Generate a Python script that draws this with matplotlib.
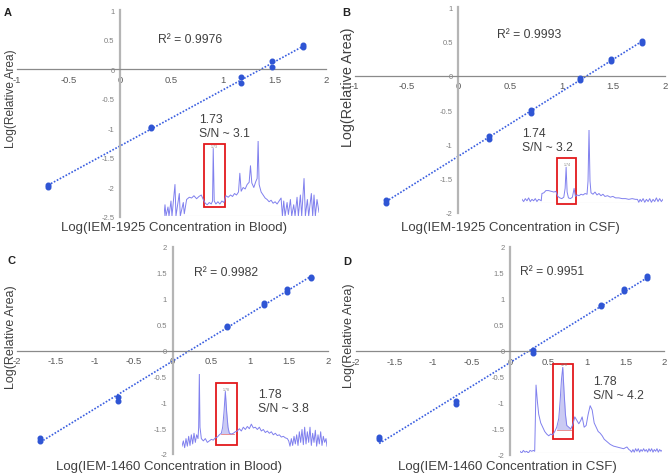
import numpy as np
import matplotlib
matplotlib.use("Agg")
import matplotlib.pyplot as plt
from matplotlib.patches import Rectangle

plt.rcParams['font.family'] = ['Liberation Sans', 'DejaVu Sans']
plt.rcParams['axes.unicode_minus'] = False

W, H = 669, 477

# calibration data: log10(concentration) vs log10(relative area)
A_x = [-0.699, -0.699, 0.301, 0.301, 1.176, 1.176, 1.477, 1.477, 1.778, 1.778]
A_y = [-1.96, -1.99, -0.98, -1.00, -0.13, -0.23, 0.14, 0.03, 0.41, 0.37]
B_x = [-0.699, -0.699, 0.301, 0.301, 0.699, 0.699, 1.176, 1.176, 1.477, 1.477, 1.778, 1.778]
B_y = [-1.81, -1.85, -0.88, -0.92, -0.50, -0.54, -0.04, -0.06, 0.25, 0.21, 0.50, 0.47]
C_x = [-1.699, -1.699, -0.699, -0.699, 0.699, 0.699, 1.176, 1.176, 1.477, 1.477, 1.778, 1.778]
C_y = [-1.70, -1.74, -0.90, -0.97, 0.47, 0.45, 0.92, 0.88, 1.18, 1.14, 1.42, 1.41]
D_x = [-1.699, -1.699, -0.699, -0.699, 0.301, 0.301, 1.176, 1.176, 1.477, 1.477, 1.778, 1.778]
D_y = [-1.65, -1.69, -0.97, -1.01, 0.02, -0.04, 0.89, 0.87, 1.19, 1.15, 1.44, 1.40]

R2 = ['R² = 0.9976', 'R² = 0.9993', 'R² = 0.9982', 'R² = 0.9951']
SN = ['1.73\nS/N ~ 3.1', '1.74\nS/N ~ 3.2', '1.78\nS/N ~ 3.8', '1.78\nS/N ~ 4.2']
PEAK = ['1.73', '1.74', '1.78', '1.78']
XLABELS = ['Log(IEM-1925 Concentration in Blood)', 'Log(IEM-1925 Concentration in CSF)',
           'Log(IEM-1460 Concentration in Blood)', 'Log(IEM-1460 Concentration in CSF)']
YLABEL = 'Log(Relative Area)'
LETTERS = ['A', 'B', 'C', 'D']

XT_AB = [-1, -0.5, 0, 0.5, 1, 1.5, 2]
XT_CD = [-2, -1.5, -1, -0.5, 0, 0.5, 1, 1.5, 2]
YT_A = [1, 0.5, 0, -0.5, -1, -1.5, -2, -2.5]
YT_B = [1, 0.5, 0, -0.5, -1, -1.5, -2]
YT_CD = [2, 1.5, 1, 0.5, 0, -0.5, -1, -1.5, -2]

# chromatogram insets (retention units, normalised intensity)
CA_t = [12, 15, 18, 24, 27, 33, 36, 45, 48, 58, 61, 70, 73, 80, 88, 95, 102, 110, 117, 124,
        130, 136, 142, 148, 154, 158, 160, 163, 168, 174, 180, 186, 192, 198, 205, 212, 218,
        224, 230, 236, 240, 244, 250, 256, 262, 268, 272, 276, 282, 288, 292, 295, 298, 304,
        310, 316, 322, 328, 334, 340, 346, 352, 358, 364, 368, 372, 376, 382, 386, 392, 396,
        402, 406, 412, 416, 422, 426, 433, 437, 443, 447, 455, 459, 463, 467, 472, 478]
CA_i = [0, 0.15, 0, 0.12, 0, 0.2, 0, 0.42, 0, 0.30, 0, 0.18, 0.03, 0.22, 0.25, 0.24, 0.27, 0.23,
        0.26, 0.28, 0.22, 0.17, 0.15, 0.18, 0.16, 0.2, 0.9, 0.2, 0.16, 0.19, 0.16, 0.2, 0.18,
        0.27, 0.25, 0.28, 0.26, 0.3, 0.28, 0.32, 0.57, 0.33, 0.38, 0.36, 0.42, 0.45, 0.67, 0.44,
        0.38, 0.46, 0.5, 1.0, 0.42, 0.32, 0.28, 0.24, 0.22, 0.19, 0.21, 0.17, 0.19, 0.16, 0.2,
        0.24, 0, 0.2, 0, 0.18, 0.02, 0.22, 0, 0.15, 0, 0.25, 0, 0.28, 0, 0.5, 0, 0.22, 0, 0.3,
        0, 0.28, 0, 0.22, 0.05]
CB_t = [20, 25, 30, 35, 40, 45, 50, 55, 60, 65, 70, 75, 78, 80, 86, 92, 100, 108, 116, 122,
        128, 134, 140, 146, 150, 153, 156, 160, 166, 172, 177, 181, 186, 192, 198, 204, 210,
        216, 219, 222, 225, 228, 234, 240, 246, 252, 258, 264, 270, 278, 286, 294, 302, 312,
        322, 332, 342, 352, 362, 368, 372, 376, 380, 385, 390, 395, 400, 405, 410, 415, 420,
        425, 430, 435, 440, 445]
CB_i = [0.05, 0.02, 0.06, 0.03, 0.07, 0.02, 0.05, 0.03, 0.06, 0.02, 0.05, 0.04, 0.03, 0.13,
        0.14, 0.17, 0.17, 0.16, 0.15, 0.16, 0.09, 0.07, 0.06, 0.08, 0.2, 0.49, 0.15, 0.07, 0.06,
        0.08, 0.2, 0.09, 0.11, 0.1, 0.12, 0.11, 0.13, 0.12, 0.3, 1.0, 0.3, 0.14, 0.12, 0.15,
        0.11, 0.13, 0.1, 0.12, 0.09, 0.1, 0.08, 0.09, 0.07, 0.07, 0.06, 0.06, 0.05, 0.06, 0.05,
        0.05, 0.01, 0.05, 0.02, 0.06, 0.01, 0.05, 0.02, 0.06, 0.01, 0.05, 0.02, 0.07, 0.02,
        0.06, 0.02, 0.05]
CC_t = [20, 24, 28, 32, 36, 40, 44, 48, 52, 56, 60, 64, 68, 70, 72, 74, 78, 84, 90, 96, 102,
        108, 114, 120, 126, 132, 138, 142, 146, 150, 154, 158, 162, 168, 174, 180, 186, 192,
        198, 204, 210, 216, 222, 228, 234, 240, 246, 252, 258, 264, 270, 276, 282, 288, 294,
        300, 306, 312, 318, 324, 330, 336, 340, 344, 348, 352, 356, 360, 364, 368, 372, 376,
        380, 384, 388, 392, 396, 400, 404, 408, 412, 416, 420, 424, 428, 432, 436, 440, 444,
        448, 452, 455]
CC_i = [0.05, 0.12, 0.03, 0.15, 0.05, 0.18, 0.06, 0.2, 0.08, 0.22, 0.1, 0.2, 0.15, 0.3, 1.0,
        0.3, 0.15, 0.12, 0.15, 0.1, 0.12, 0.14, 0.13, 0.16, 0.17, 0.2, 0.22, 0.3, 0.5, 0.77,
        0.5, 0.3, 0.22, 0.21, 0.22, 0.24, 0.25, 0.28, 0.25, 0.3, 0.27, 0.31, 0.28, 0.34, 0.29,
        0.3, 0.27, 0.3, 0.25, 0.27, 0.23, 0.25, 0.22, 0.24, 0.2, 0.22, 0.19, 0.2, 0.17, 0.18,
        0.16, 0.15, 0.12, 0.05, 0.15, 0.06, 0.18, 0.08, 0.2, 0.06, 0.24, 0.1, 0.27, 0.07, 0.3,
        0.08, 0.24, 0.1, 0.3, 0.06, 0.22, 0.1, 0.26, 0.05, 0.2, 0.08, 0.24, 0.06, 0.18, 0.1,
        0.15, 0.05]
CD_t = [30, 35, 40, 45, 50, 55, 60, 65, 70, 74, 76, 78, 82, 86, 92, 98, 104, 110, 116, 122,
        128, 134, 140, 146, 150, 154, 158, 162, 166, 170, 176, 182, 188, 194, 200, 206, 212,
        216, 222, 228, 234, 240, 246, 252, 258, 264, 270, 276, 282, 288, 294, 300, 310, 320,
        330, 340, 350, 356, 360, 364, 368, 372, 376, 380, 384, 388, 392, 396, 400, 404, 408,
        412, 416, 420, 424, 428, 432, 436, 440, 444, 448, 452, 455]
CD_i = [0.02, 0.0, 0.03, 0.01, 0.02, 0.0, 0.03, 0.02, 0.03, 0.02, 0.4, 0.79, 0.6, 0.45, 0.35,
        0.3, 0.25, 0.22, 0.2, 0.22, 0.21, 0.25, 0.3, 0.4, 0.6, 0.85, 1.0, 0.7, 0.45, 0.32, 0.3,
        0.28, 0.33, 0.42, 0.38, 0.34, 0.38, 0.42, 0.3, 0.32, 0.45, 0.55, 0.5, 0.35, 0.3, 0.25,
        0.23, 0.2, 0.16, 0.14, 0.12, 0.1, 0.08, 0.07, 0.06, 0.05, 0.07, 0.04, 0.03, 0.01, 0.04,
        0.01, 0.05, 0.02, 0.05, 0.01, 0.04, 0.02, 0.05, 0.02, 0.04, 0.01, 0.05, 0.02, 0.05,
        0.01, 0.04, 0.02, 0.05, 0.01, 0.04, 0.02, 0.03]

BLUE = '#2f55d4'
TEXT = '#404040'


def px_rect(l, t, r, b):
    return [l / W, 1 - b / H, (r - l) / W, (b - t) / H]


def ftext(fig, x, y, s, **kw):
    fig.text(x / W, 1 - y / H, s, **kw)


def calib(fig, rect, xs, ys, xlim, ylim, xticks, yticks):
    ax = fig.add_axes(rect)
    ax.patch.set_alpha(0)
    for side in ['top', 'right']:
        ax.spines[side].set_visible(False)
    ax.spines['left'].set_position(('data', 0))
    ax.spines['bottom'].set_position(('data', 0))
    ax.spines['left'].set_color('#b5b5b5')
    ax.spines['left'].set_linewidth(1.6)
    ax.spines['bottom'].set_color('#8a8a8a')
    ax.spines['bottom'].set_linewidth(0.9)
    ax.set_xlim(*xlim)
    ax.set_ylim(*ylim)
    ax.set_xticks(xticks)
    ax.set_xticklabels([f'{t:g}' for t in xticks])
    ax.set_yticks(yticks)
    ax.set_yticklabels([f'{t:g}' for t in yticks])
    ax.tick_params(axis='x', length=0, pad=4, labelsize=6.8, labelcolor='#595959')
    ax.tick_params(axis='y', length=0, pad=4, labelsize=5.5, labelcolor='#7f7f7f')

    xs, ys = np.array(xs), np.array(ys)
    k, b = np.polyfit(xs, ys, 1)
    xl = np.array([xs.min(), xs.max()])
    ax.plot(xl, k * xl + b, color='#3a5ee0', lw=1.2, ls=(0, (1, 1)), zorder=2)
    ax.scatter(xs, ys, s=11, color=BLUE, zorder=3, clip_on=False)
    return ax


def chromatogram(fig, rect, t, i, box, peak, fill_span, fill_base):
    ax = fig.add_axes(rect)
    ax.set_axis_off()
    t, i = np.array(t, float), np.array(i, float)
    ax.set_xlim(t[0], t[-1])
    ax.set_ylim(0, 1)
    ax.axhline(0, color='#d9d9d9', lw=0.8)
    if fill_span is not None:
        m = (t >= fill_span[0]) & (t <= fill_span[1])
        ax.fill_between(t[m], i[m], fill_base, color='#b4b4ee', alpha=0.7, lw=0)
        ax.plot(fill_span, [fill_base, fill_base], color='#e88080', lw=0.6)
    ax.plot(t, i, color='#8080ee', lw=0.7)
    pk = np.argmax(np.where((t >= box[0]) & (t <= box[1]), i, -1))
    ax.text(t[pk] + 3, i[pk] + 0.01, peak, fontsize=2.5, color='#808080',
            ha='center', va='bottom')
    ax.add_patch(Rectangle((box[0], box[2]), box[1] - box[0], box[3] - box[2],
                           fill=False, ec='#e3191c', lw=1.3, clip_on=False))


fig = plt.figure(figsize=(W / 100, H / 100), dpi=100)

calib(fig, px_rect(17, 11, 326, 218), A_x, A_y, (-1, 2), (-2.5, 1), XT_AB, YT_A)
calib(fig, px_rect(355, 8, 665, 214), B_x, B_y, (-1, 2), (-2, 1), XT_AB, YT_B)
calib(fig, px_rect(17, 248, 328, 455), C_x, C_y, (-2, 2), (-2, 2), XT_CD, YT_CD)
calib(fig, px_rect(356, 248, 664, 456), D_x, D_y, (-2, 2), (-2, 2), XT_CD, YT_CD)

chromatogram(fig, px_rect(164, 142, 319, 217), CA_t, CA_i, (133, 195, 0.12, 0.96),
             PEAK[0], None, 0)
chromatogram(fig, px_rect(522, 131, 663, 204), CB_t, CB_i, (125, 183, -0.02, 0.61),
             PEAK[1], None, 0)
chromatogram(fig, px_rect(182, 375, 327, 451), CC_t, CC_i, (123, 185, 0.066, 0.88),
             PEAK[2], (138, 176), 0.21)
chromatogram(fig, px_rect(520, 368, 662, 454), CD_t, CD_i, (128, 188, 0.16, 1.03),
             PEAK[3], (140, 182), 0.27)

# texts
for (x, y), s in zip([(158, 40), (497, 35), (194, 273), (520, 272)], R2):
    ftext(fig, x, y, s, fontsize=8.7, color=TEXT, ha='left', va='center')
for (x, y), s in zip([(199, 127), (522, 141), (258, 402), (593, 389)], SN):
    ftext(fig, x, y, s, fontsize=8.7, color=TEXT, ha='left', va='center', linespacing=1.15)
for (x, y), s in zip([(174, 228), (510, 228), (169, 467), (507, 467)], XLABELS):
    ftext(fig, x, y, s, fontsize=9.5, color=TEXT, ha='center', va='center')
for (x, y, fs) in [(11, 99, 8.6), (348, 87, 10.4), (11, 337, 9.0), (349, 336, 9.1)]:
    ftext(fig, x, y, YLABEL, fontsize=fs, color=TEXT, ha='center', va='center', rotation=90)
for (x, y), s in zip([(8, 13), (346, 13), (12, 261), (347, 262)], LETTERS):
    ftext(fig, x, y, s, fontsize=8, color='#222222', ha='center', va='center',
          fontweight='bold')

fig.savefig('out.png', dpi=100)
